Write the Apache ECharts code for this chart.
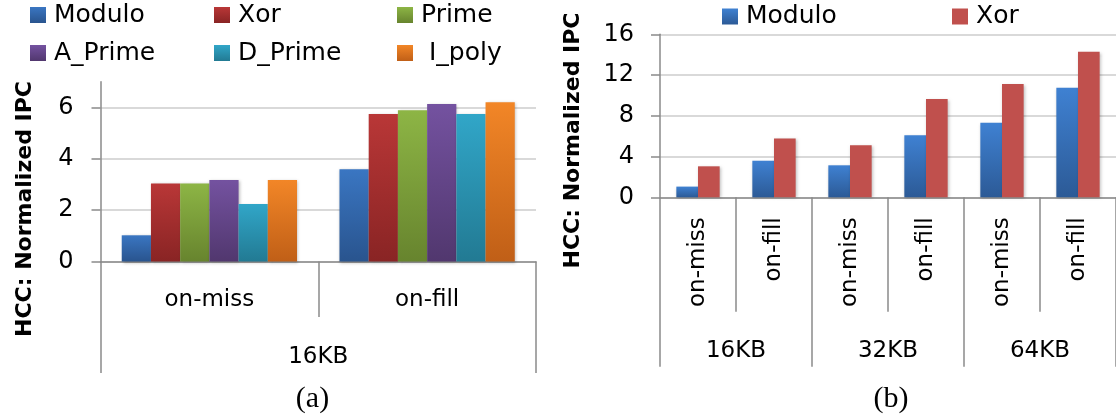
<!DOCTYPE html>
<html>
<head>
<meta charset="utf-8">
<script src="https://cdn.jsdelivr.net/npm/echarts@6/dist/echarts.min.js"></script>
<style>
html,body{margin:0;padding:0;background:#fff;}
#chart{width:1116px;height:418px;}
</style>
</head>
<body>
<div id="chart"></div>
<script>
// ---- Panel (a) data ----
const catsA = ['on-miss', 'on-fill'];
const groupsA = ['16KB'];
const namesA = ['Modulo', 'Xor', 'Prime', 'A_Prime', 'D_Prime', ' I_poly'];
const moduloA = [1.02, 3.59];
const xorA = [3.04, 5.74];
const primeA = [3.04, 5.89];
const aPrimeA = [3.17, 6.13];
const dPrimeA = [2.24, 5.74];
const iPolyA = [3.17, 6.20];
const yTicksA = [0, 2, 4, 6];

// ---- Panel (b) data ----
const catsB = ['on-miss', 'on-fill', 'on-miss', 'on-fill', 'on-miss', 'on-fill'];
const groupsB = ['16KB', '32KB', '64KB'];
const namesB = ['Modulo', 'Xor'];
const moduloB = [1.05, 3.59, 3.14, 6.08, 7.32, 10.75];
const xorB = [3.04, 5.78, 5.10, 9.64, 11.11, 14.28];
const yTicksB = [0, 4, 8, 12, 16];

const yTitle = 'HCC: Normalized IPC';
const captions = ['(a)', '(b)'];

function grad(top, bottom) {
  return new echarts.graphic.LinearGradient(0, 0, 0, 1, [
    {offset: 0, color: top}, {offset: 1, color: bottom}
  ]);
}
const colorsA = [
  grad('#3a76c2', '#29548e'),
  grad('#b93737', '#892424'),
  grad('#8db545', '#67842e'),
  grad('#7452a0', '#51376e'),
  grad('#31a6c8', '#227a93'),
  grad('#f28627', '#c05f17')
];
const colorsB = [grad('#3f81d2', '#2c5a96'), '#c0504d'];
const valuesA = [moduloA, xorA, primeA, aPrimeA, dPrimeA, iPolyA];
const valuesB = [moduloB, xorB];

const AXIS = '#8a8a8a';
const GRID = '#cccccc';
const FONT = 'DejaVu Sans';
const txt = {fontFamily: FONT, fontSize: 23, color: '#000'};
const tickTxt = {fontFamily: FONT, fontSize: 24, color: '#000'};

const chart = echarts.init(document.getElementById('chart'), null, {renderer: 'canvas'});

const series = [];
namesA.forEach((n, i) => {
  series.push({
    type: 'bar', name: n, xAxisIndex: 0, yAxisIndex: 0,
    data: valuesA[i], barGap: '0%', barCategoryGap: '19.5%',
    itemStyle: {color: colorsA[i], shadowColor: 'rgba(0,0,0,0.25)', shadowBlur: 3, shadowOffsetX: 1, shadowOffsetY: 1},
    emphasis: {disabled: true}, animation: false
  });
});
namesB.forEach((n, i) => {
  series.push({
    type: 'bar', name: n, xAxisIndex: 2, yAxisIndex: 1,
    data: valuesB[i], barGap: '0%', barCategoryGap: '43%',
    itemStyle: {color: colorsB[i], shadowColor: 'rgba(0,0,0,0.25)', shadowBlur: 3, shadowOffsetX: 1, shadowOffsetY: 1},
    emphasis: {disabled: true}, animation: false
  });
});

function legendItem(name, left, centerY, color) {
  const d = color ? {name: name, itemStyle: {color: color}} : name;
  return {
    show: true, orient: 'horizontal', left: left, top: centerY - 13, padding: 0,
    itemWidth: 16, itemHeight: 16, icon: 'rect', selectedMode: false,
    data: [d],
    textStyle: {fontFamily: FONT, fontSize: 25, lineHeight: 26, color: '#000', padding: [0, 0, 0, 3]}
  };
}

const legends = [
  legendItem(namesA[0], 30, 15),
  legendItem(namesA[1], 214, 15),
  legendItem(namesA[2], 397, 15),
  legendItem(namesA[3], 30, 53),
  legendItem(namesA[4], 214, 53),
  legendItem(namesA[5], 397, 53),
  legendItem(namesB[0], 722, 16.5, colorsB[0]),
  legendItem(namesB[1], 952, 16.5, colorsB[1])
];

const option = {
  backgroundColor: '#fff',
  animation: false,
  legend: legends,
  grid: [
    {left: 100.5, top: 81.7, width: 435.5, height: 179.8, containLabel: false},
    {left: 660, top: 34.3, width: 459, height: 163, containLabel: false}
  ],
  xAxis: [
    {
      type: 'category', gridIndex: 0, data: catsA, position: 'bottom',
      axisLine: {show: true, lineStyle: {color: AXIS, width: 1.5}},
      axisTick: {show: true, length: 55.5, interval: 0, lineStyle: {color: AXIS, width: 1.5}},
      axisLabel: Object.assign({margin: 27, interval: 0, lineHeight: 23}, txt),
      splitLine: {show: false}
    },
    {
      type: 'category', gridIndex: 0, data: groupsA, position: 'bottom',
      axisLine: {show: false},
      axisTick: {show: true, length: 111.5, interval: 0, lineStyle: {color: AXIS, width: 1.5}},
      axisLabel: Object.assign({margin: 84, interval: 0, lineHeight: 23}, txt),
      splitLine: {show: false}
    },
    {
      type: 'category', gridIndex: 1, data: catsB, position: 'bottom',
      axisLine: {show: true, lineStyle: {color: AXIS, width: 1.5}},
      axisTick: {show: true, length: 114.4, interval: 0, lineStyle: {color: AXIS, width: 1.5}},
      axisLabel: Object.assign({margin: 20, interval: 0, rotate: 90, lineHeight: 23}, txt),
      splitLine: {show: false}
    },
    {
      type: 'category', gridIndex: 1, data: groupsB, position: 'bottom',
      axisLine: {show: false},
      axisTick: {show: true, length: 169.4, interval: 0, lineStyle: {color: AXIS, width: 1.5}},
      axisLabel: Object.assign({margin: 142, interval: 0, lineHeight: 23}, txt),
      splitLine: {show: false}
    }
  ],
  yAxis: [
    {
      type: 'value', gridIndex: 0, min: 0, max: 7, interval: 1,
      axisLine: {show: true, lineStyle: {color: AXIS, width: 1.5}},
      axisTick: {show: true, length: 9, customValues: yTicksA, lineStyle: {color: AXIS, width: 1.5}},
      axisLabel: Object.assign({margin: 27, customValues: yTicksA}, tickTxt),
      splitLine: {show: true, lineStyle: {color: GRID, width: 1.5}}
    },
    {
      type: 'value', gridIndex: 1, min: 0, max: 16, interval: 2,
      axisLine: {show: true, lineStyle: {color: AXIS, width: 1.5}},
      axisTick: {show: true, length: 9, customValues: yTicksB, lineStyle: {color: AXIS, width: 1.5}},
      axisLabel: Object.assign({margin: 26, customValues: yTicksB}, tickTxt),
      splitLine: {show: true, lineStyle: {color: GRID, width: 1.5}}
    }
  ],
  graphic: [
    {type: 'text', x: 25, y: 209, rotation: Math.PI / 2, silent: true,
      style: {text: yTitle, font: 'bold 22px "DejaVu Sans"', fill: '#000', align: 'center', verticalAlign: 'middle', textAlign: 'center', textVerticalAlign: 'middle'}},
    {type: 'text', x: 573, y: 140.5, rotation: Math.PI / 2, silent: true,
      style: {text: yTitle, font: 'bold 22px "DejaVu Sans"', fill: '#000', align: 'center', verticalAlign: 'middle', textAlign: 'center', textVerticalAlign: 'middle'}},
    {type: 'text', x: 312.5, y: 399, silent: true,
      style: {text: captions[0], font: '30px "Liberation Serif"', fill: '#000', align: 'center', verticalAlign: 'middle', textAlign: 'center', textVerticalAlign: 'middle'}},
    {type: 'text', x: 891, y: 399, silent: true,
      style: {text: captions[1], font: '30px "Liberation Serif"', fill: '#000', align: 'center', verticalAlign: 'middle', textAlign: 'center', textVerticalAlign: 'middle'}}
  ],
  series: series
};
chart.setOption(option);
</script>
</body>
</html>
